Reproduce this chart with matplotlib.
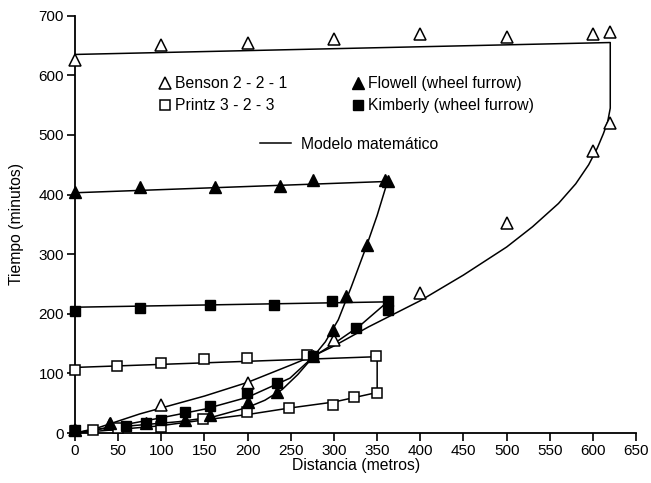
import matplotlib
matplotlib.use('Agg')
import matplotlib.pyplot as plt
from matplotlib.lines import Line2D

plt.rcParams['font.family'] = ['Liberation Sans', 'DejaVu Sans']

# observed points (distance m, time min)
benson_adv_x = [0, 40, 100, 200, 300, 400, 500, 600, 620]
benson_adv_y = [5, 15, 47, 84, 156, 235, 352, 473, 520]
benson_rec_x = [0, 100, 200, 300, 400, 500, 600, 620]
benson_rec_y = [626, 651, 655, 661, 669, 664, 669, 672]

printz_adv_x = [0, 21, 50, 100, 148, 199, 248, 299, 323, 350]
printz_adv_y = [3, 5, 8, 10, 23, 35, 42, 47, 60, 67]
printz_rec_x = [0, 49, 100, 149, 199, 269, 349]
printz_rec_y = [106, 112, 118, 124, 126, 131, 129]

flowell_adv_x = [0, 40, 82, 127, 156, 200, 234, 276, 299, 314, 338, 362]
flowell_adv_y = [5, 16, 17, 22, 30, 52, 69, 129, 172, 230, 315, 423]
flowell_rec_x = [0, 75, 162, 237, 276, 359]
flowell_rec_y = [405, 412, 413, 414, 424, 424]

kimb_adv_x = [0, 59, 82, 100, 127, 156, 199, 234, 276, 325, 362]
kimb_adv_y = [5, 12, 17, 22, 35, 45, 67, 84, 130, 176, 207]
kimb_rec_x = [0, 75, 156, 231, 298, 362]
kimb_rec_y = [205, 210, 215, 215, 221, 222]

# model curves (advance, closure, recession)
benson_mod_x = [0, 25, 50, 75, 100, 150, 200, 250, 280, 300, 340, 400, 450, 500, 530,
                560, 580, 595, 605, 612, 617, 620, 620, 0]
benson_mod_y = [0, 8, 20, 32, 42, 62, 85, 114, 132, 146, 178, 222, 265, 312, 346,
                385, 418, 450, 478, 502, 522, 545, 655, 635]
printz_mod_x = [0, 50, 98, 150, 200, 249, 300, 350, 350, 0]
printz_mod_y = [0, 6, 12, 22, 31, 42, 52, 68, 128, 110]
flowell_mod_x = [0, 40, 80, 120, 160, 200, 220, 240, 258, 276, 290, 305, 320, 338, 350, 362, 0]
flowell_mod_y = [0, 9, 14, 19, 27, 43, 55, 73, 98, 128, 153, 190, 245, 315, 365, 422, 403]
kimb_mod_x = [0, 50, 98, 150, 200, 249, 276, 300, 330, 362, 0]
kimb_mod_y = [0, 12, 25, 40, 60, 92, 128, 150, 180, 220, 211]

fig = plt.figure(figsize=(6.51, 4.83), dpi=100)
ax = fig.add_axes([0.1152, 0.1035, 0.862, 0.864])

lw = 1.1
for mx, my in [(benson_mod_x, benson_mod_y), (printz_mod_x, printz_mod_y),
               (flowell_mod_x, flowell_mod_y), (kimb_mod_x, kimb_mod_y)]:
    ax.plot(mx, my, color='black', lw=lw, zorder=2, clip_on=False)

open_kw = dict(ls='none', mfc='white', mec='black', mew=1.1, clip_on=False, zorder=3)
fill_kw = dict(ls='none', mfc='black', mec='black', mew=1.0, clip_on=False, zorder=3)
for xs, ys in [(benson_adv_x, benson_adv_y), (benson_rec_x, benson_rec_y)]:
    ax.plot(xs, ys, marker='^', ms=8.5, **open_kw)
for xs, ys in [(printz_adv_x, printz_adv_y), (printz_rec_x, printz_rec_y)]:
    ax.plot(xs, ys, marker='s', ms=7, **open_kw)
for xs, ys in [(flowell_adv_x, flowell_adv_y), (flowell_rec_x, flowell_rec_y)]:
    ax.plot(xs, ys, marker='^', ms=8.5, **fill_kw)
for xs, ys in [(kimb_adv_x, kimb_adv_y), (kimb_rec_x, kimb_rec_y)]:
    ax.plot(xs, ys, marker='s', ms=7, **fill_kw)

ax.set_xlim(0, 650)
ax.set_ylim(0, 700)
ax.set_xticks(range(0, 651, 50))
ax.set_yticks(range(0, 701, 100))
for s in ['top', 'right']:
    ax.spines[s].set_visible(False)
for s in ['left', 'bottom']:
    ax.spines[s].set_linewidth(1.3)
ax.tick_params(direction='out', length=6, width=1.2, labelsize=11, pad=2)
ax.set_xlabel('Distancia (metros)', fontsize=11.3, labelpad=0)
ax.set_ylabel('Tiempo (minutos)', fontsize=11.3, labelpad=10)

fs = 11.3
handles = [
    Line2D([], [], marker='^', ms=8.5, ls='none', mfc='white', mec='black', mew=1.1),
    Line2D([], [], marker='s', ms=7, ls='none', mfc='white', mec='black', mew=1.1),
    Line2D([], [], marker='^', ms=8.5, ls='none', mfc='black', mec='black'),
    Line2D([], [], marker='s', ms=7, ls='none', mfc='black', mec='black'),
]
labels = ['Benson 2 - 2 - 1', 'Printz 3 - 2 - 3',
          'Flowell (wheel furrow)', 'Kimberly (wheel furrow)']
leg = ax.legend(handles, labels, ncol=2, frameon=False, fontsize=fs,
                loc='upper left', bbox_to_anchor=(0.14, 0.87),
                handlelength=0.6, handletextpad=0.35, columnspacing=4.2,
                labelspacing=0.45, borderaxespad=0)
ax.add_artist(leg)
ax.legend([Line2D([], [], color='black', lw=lw)], ['Modelo matemático'],
          frameon=False, fontsize=fs, loc='upper left',
          bbox_to_anchor=(0.318, 0.725), handlelength=2.0, handletextpad=0.6,
          borderaxespad=0)

fig.savefig('out.png', dpi=100)
